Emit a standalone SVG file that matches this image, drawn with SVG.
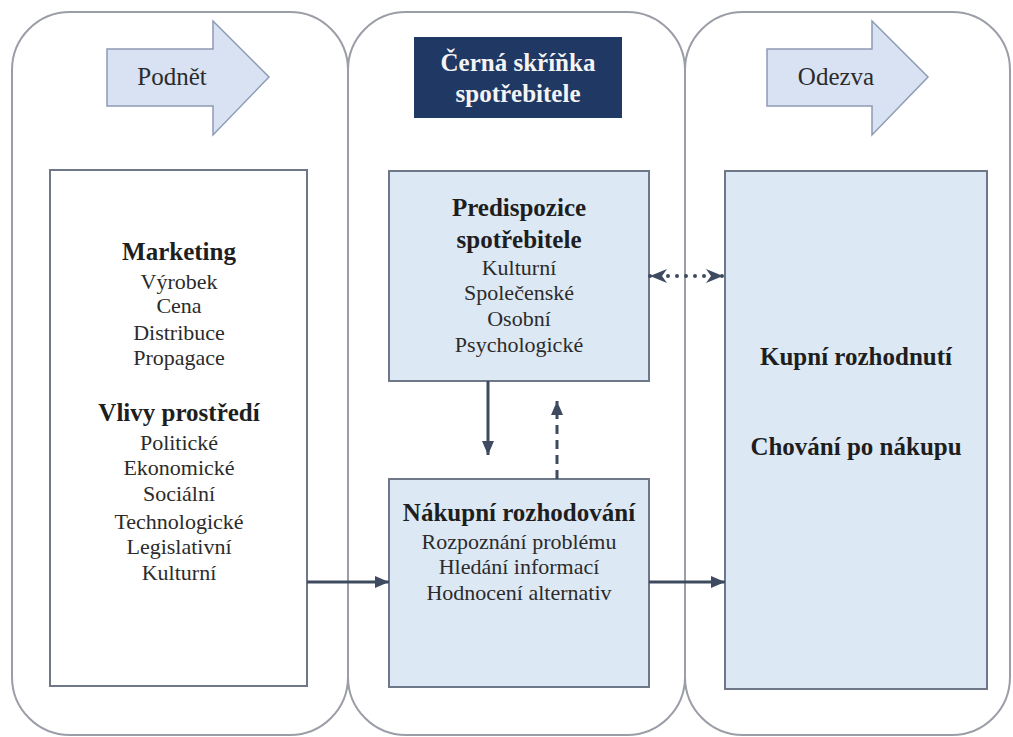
<svg xmlns="http://www.w3.org/2000/svg" width="1013" height="737" viewBox="0 0 1013 737">
  <style>
    .col { fill: #ffffff; stroke: #9b9ea6; stroke-width: 2; }
    .box { stroke: #6e7889; stroke-width: 2; }
    .blue { fill: #dde8f5; }
    .white { fill: #ffffff; }
    .barrow { fill: #d9e2f2; stroke: #8d9bb5; stroke-width: 1.5; }
    text { font-family: "Times New Roman", Times, "Liberation Serif", Tinos, "Noto Serif", "DejaVu Serif", FreeSerif, serif; fill: #2b2b2b; text-anchor: middle; }
    .b { font-weight: bold; font-size: 25px; fill: #1e1e1e; }
    .r { font-size: 22px; }
    .lbl { font-size: 25px; }
    .inv { font-weight: bold; font-size: 25px; fill: #f4f4f4; }
    .conn { stroke: #3e4a5f; stroke-width: 3; fill: none; }
    .dot { stroke: #3e4a5f; stroke-width: 4; stroke-linecap: round; stroke-dasharray: 0,9; fill: none; }
  </style>
  <defs>
    <marker id="ah" markerUnits="userSpaceOnUse" markerWidth="14" markerHeight="14" refX="14" refY="7" orient="auto-start-reverse">
      <path d="M0,1 L14,7 L0,13 z" fill="#3e4a5f"/>
    </marker>
    <marker id="sh" markerUnits="userSpaceOnUse" markerWidth="17" markerHeight="16" refX="17" refY="8" orient="auto-start-reverse">
      <path d="M0,1 L17,8 L0,15 L5,8 z" fill="#3e4a5f"/>
    </marker>
  </defs>

  <g id="col-stimulus">
    <rect class="col" x="12" y="12" width="336" height="723" rx="58" ry="58"/>
  </g>
  <g id="col-blackbox">
    <rect class="col" x="348" y="12" width="337" height="723" rx="58" ry="58"/>
  </g>
  <g id="col-response">
    <rect class="col" x="685" y="12" width="325" height="723" rx="58" ry="58"/>
  </g>

  <g id="arrow-podnet">
    <path class="barrow" d="M107,49 L213,49 L213,21 L269,77 L213,135 L213,106 L107,106 z"/>
    <text class="lbl" x="172" y="85">Podnět</text>
  </g>

  <g id="title-blackbox">
    <rect x="414" y="37" width="208" height="81" fill="#1f3864"/>
    <text class="inv" x="518" y="71">Černá skříňka</text>
    <text class="inv" x="518" y="102">spotřebitele</text>
  </g>

  <g id="arrow-odezva">
    <path class="barrow" d="M767,49 L872,49 L872,21 L928,77 L872,135 L872,106 L767,106 z"/>
    <text class="lbl" x="836" y="85">Odezva</text>
  </g>

  <g id="box-stimuli">
    <rect class="box white" x="50" y="170" width="257" height="516"/>
    <text class="b" x="179" y="260">Marketing</text>
    <text class="r" x="179" y="289">Výrobek</text>
    <text class="r" x="179" y="313">Cena</text>
    <text class="r" x="179" y="340">Distribuce</text>
    <text class="r" x="179" y="365">Propagace</text>
    <text class="b" x="179" y="421">Vlivy prostředí</text>
    <text class="r" x="179" y="450">Politické</text>
    <text class="r" x="179" y="475">Ekonomické</text>
    <text class="r" x="179" y="501">Sociální</text>
    <text class="r" x="179" y="529">Technologické</text>
    <text class="r" x="179" y="554">Legislativní</text>
    <text class="r" x="179" y="580">Kulturní</text>
  </g>

  <g id="box-predispozice">
    <rect class="box blue" x="389" y="171" width="260" height="210"/>
    <text class="b" x="519" y="216">Predispozice</text>
    <text class="b" x="519" y="248">spotřebitele</text>
    <text class="r" x="519" y="275">Kulturní</text>
    <text class="r" x="519" y="300">Společenské</text>
    <text class="r" x="519" y="326">Osobní</text>
    <text class="r" x="519" y="352">Psychologické</text>
  </g>

  <g id="box-nakupni">
    <rect class="box blue" x="389" y="479" width="260" height="208"/>
    <text class="b" x="519" y="521">Nákupní rozhodování</text>
    <text class="r" x="519" y="549">Rozpoznání problému</text>
    <text class="r" x="519" y="574">Hledání informací</text>
    <text class="r" x="519" y="600">Hodnocení alternativ</text>
  </g>

  <g id="box-response">
    <rect class="box blue" x="725" y="171" width="262" height="518"/>
    <text class="b" x="856" y="365">Kupní rozhodnutí</text>
    <text class="b" x="856" y="455">Chování po nákupu</text>
  </g>

  <g id="connectors">
    <line class="conn" x1="307" y1="582" x2="389" y2="582" marker-end="url(#ah)"/>
    <line class="conn" x1="649" y1="582" x2="725" y2="582" marker-end="url(#ah)"/>
    <line class="conn" x1="488" y1="381" x2="488" y2="455" marker-end="url(#ah)"/>
    <line class="conn" x1="557" y1="479" x2="557" y2="401" stroke-dasharray="9,6" marker-end="url(#ah)"/>
    <line class="dot" x1="650" y1="276" x2="723" y2="276" marker-start="url(#sh)" marker-end="url(#sh)"/>
  </g>
</svg>
